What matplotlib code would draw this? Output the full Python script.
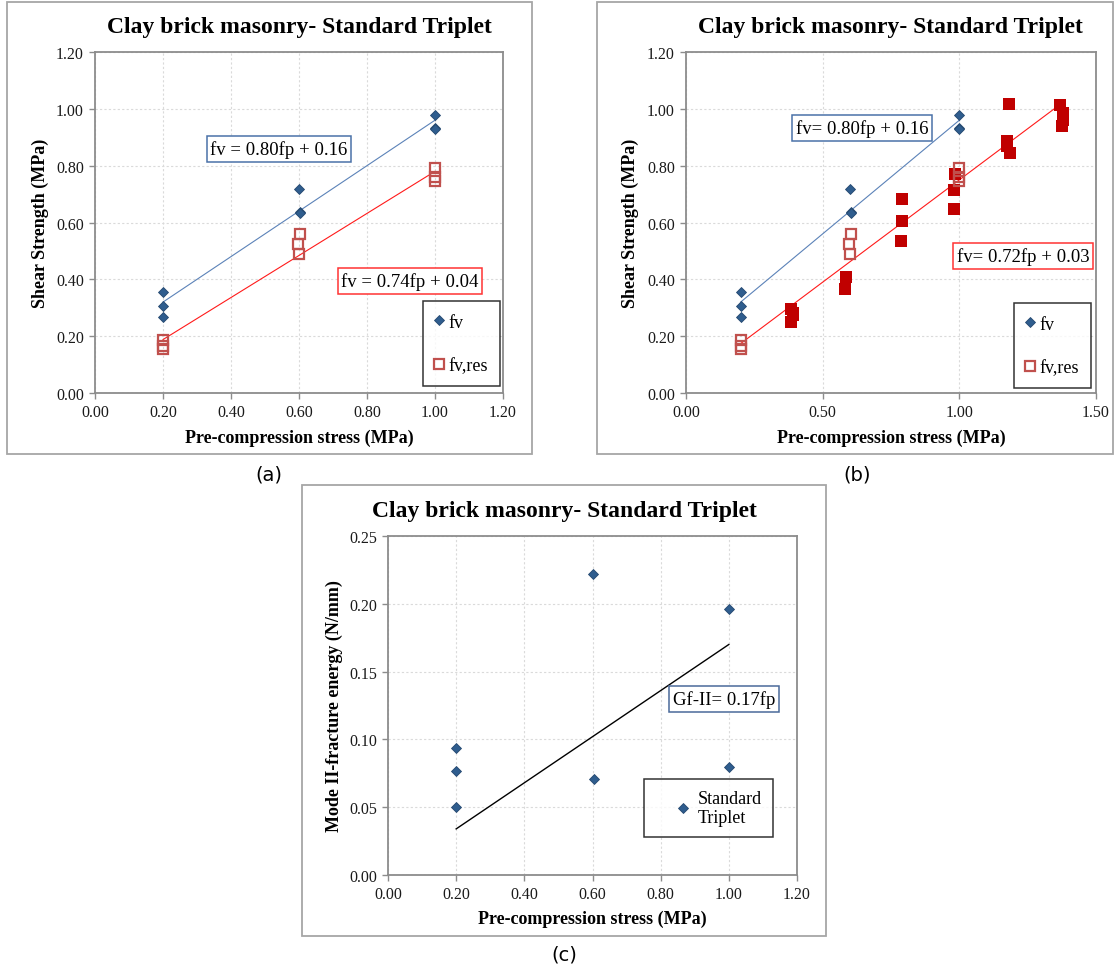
import numpy as np
import matplotlib
matplotlib.use("Agg")
import matplotlib.pyplot as plt
from matplotlib.patches import Rectangle
from matplotlib.ticker import FormatStrFormatter

plt.rcParams['font.family'] = ['Liberation Serif', 'DejaVu Serif']

W, H = 1115, 970

# shear strength, standard triplet (MPa)
fv_x = [0.2, 0.2, 0.2, 0.6, 0.603, 0.603, 1.0, 1.0, 1.0]
fv_y = [0.355, 0.305, 0.268, 0.718, 0.638, 0.635, 0.979, 0.932, 0.928]

# residual shear strength
res_x = [0.2, 0.2, 0.2, 0.603, 0.598, 0.6, 1.0, 1.0, 1.0]
res_y = [0.188, 0.167, 0.155, 0.561, 0.526, 0.488, 0.792, 0.759, 0.747]

# extra residual results used in panel (b)
ext_x = [0.385, 0.39, 0.39, 0.385, 0.585, 0.583, 0.79, 0.79, 0.787,
         0.985, 0.982, 0.98, 1.18, 1.175, 1.175, 1.185, 1.37, 1.38, 1.38, 1.375]
ext_y = [0.297, 0.283, 0.275, 0.25, 0.408, 0.366, 0.681, 0.606, 0.535,
         0.769, 0.716, 0.648, 1.016, 0.888, 0.868, 0.846, 1.012, 0.985, 0.96, 0.94]

# mode II fracture energy (N/mm)
gf_x = [0.2, 0.2, 0.2, 0.6, 0.603, 1.0, 1.0]
gf_y = [0.094, 0.077, 0.050, 0.222, 0.071, 0.196, 0.080]

# trendline coefficients
fit_fv = (0.80, 0.16)
fit_res_a = (0.74, 0.04)
fit_res_b = (0.72, 0.03)
fit_gf = 0.17

TITLE = 'Clay brick masonry- Standard Triplet'
XLAB = 'Pre-compression stress (MPa)'

BLUE = '#2F5D8E'
BLUE_LINE = '#5B82B8'
RED_OPEN = '#C0504D'
RED_FILL = '#C00000'
GRID = '#DADADA'
SPINE = '#8C8C8C'


def fx(px):
    return px / W


def fy(py):
    return 1 - py / H


def make_axes(fig, x0, x1, y0, y1):
    ax = fig.add_axes([fx(x0), fy(y1), (x1 - x0) / W, (y1 - y0) / H])
    for s in ax.spines.values():
        s.set_color(SPINE)
        s.set_linewidth(1.3)
    ax.grid(True, color=GRID, linestyle=(0, (2, 2)), linewidth=0.8)
    ax.set_axisbelow(True)
    ax.tick_params(direction='out', length=4, width=1, color=SPINE,
                   labelsize=11.5, pad=4, labelcolor='#1A1A1A')
    ax.yaxis.set_major_formatter(FormatStrFormatter('%.2f'))
    ax.xaxis.set_major_formatter(FormatStrFormatter('%.2f'))
    return ax


def frame(fig, x0, x1, y0, y1):
    fig.add_artist(Rectangle((fx(x0), fy(y1)), (x1 - x0) / W, (y1 - y0) / H,
                             transform=fig.transFigure, fill=False,
                             edgecolor='#A6A6A6', linewidth=1.3))


def eq_box(ax, fig, x, y, text, color):
    ax.text(fx(x), fy(y), text, transform=fig.transFigure, fontsize=13.5,
            ha='center', va='center',
            bbox=dict(boxstyle='square,pad=0.2', fc='white', ec=color, lw=1.1))


def trend(ax, xs, a, b, color, lw=0.8):
    xl = np.array([min(xs), max(xs)])
    ax.plot(xl, a * xl + b, color=color, lw=lw, zorder=2)


def shear_legend(ax, fig, x, y):
    leg = ax.legend(loc='upper left', bbox_to_anchor=(fx(x), fy(y)),
                    bbox_transform=fig.transFigure, borderaxespad=0,
                    fontsize=13, frameon=True, fancybox=False,
                    edgecolor='black', borderpad=0.7, labelspacing=1.45,
                    handlelength=0.4, handletextpad=0.3, numpoints=1)
    leg.get_frame().set_linewidth(1.1)


def shear_points(ax):
    ax.plot(fv_x, fv_y, 'D', color=BLUE, ms=5.5, mec='#24486F', mew=0.6,
            ls='none', label='fv', zorder=4)
    ax.plot(res_x, res_y, 's', mfc='none', mec=RED_OPEN, ms=7.0, mew=1.6,
            ls='none', label='fv,res', zorder=4)


def labels(ax, ylab, ycoord, xcoord):
    ax.set_ylabel(ylab, fontsize=13, fontweight='bold')
    ax.set_xlabel(XLAB, fontsize=13, fontweight='bold')
    ax.yaxis.set_label_coords(ycoord, 0.5)
    ax.xaxis.set_label_coords(0.5, xcoord)


fig = plt.figure(figsize=(W / 100, H / 100), dpi=100)

# (a)
frame(fig, 7, 532, 3, 455)
ax = make_axes(fig, 95, 503, 53, 394)
trend(ax, fv_x, *fit_fv, BLUE_LINE)
trend(ax, res_x, *fit_res_a, '#FF1A1A')
shear_points(ax)
ax.set_xlim(0, 1.2)
ax.set_ylim(0, 1.2)
ax.set_xticks(np.arange(0, 1.21, 0.2))
ax.set_yticks(np.arange(0, 1.21, 0.2))
labels(ax, 'Shear Strength (MPa)', -0.113, -0.106)
eq_box(ax, fig, 279, 150, 'fv = 0.80fp + 0.16', '#4A72A8')
eq_box(ax, fig, 410, 282, 'fv = 0.74fp + 0.04', '#FF3333')
shear_legend(ax, fig, 423, 302)
fig.text(fx(299), fy(28), TITLE, fontsize=17, fontweight='bold',
         ha='center', va='center')
fig.text(fx(269), fy(475), '(a)', fontsize=14, family='DejaVu Sans',
         ha='center', va='center')

# (b)
frame(fig, 597, 1113, 3, 455)
ax = make_axes(fig, 686, 1096, 53, 394)
trend(ax, fv_x, *fit_fv, BLUE_LINE)
trend(ax, res_x + ext_x, *fit_res_b, '#FF1A1A')
ax.plot(ext_x, ext_y, 's', color=RED_FILL, ms=8.0, mew=0, ls='none',
        label='_nolegend_', zorder=3)
shear_points(ax)
ax.set_xlim(0, 1.5)
ax.set_ylim(0, 1.2)
ax.set_xticks([0, 0.5, 1.0, 1.5])
ax.set_yticks(np.arange(0, 1.21, 0.2))
labels(ax, 'Shear Strength (MPa)', -0.115, -0.106)
eq_box(ax, fig, 862, 129, 'fv= 0.80fp + 0.16', '#4A72A8')
eq_box(ax, fig, 1023, 257, 'fv= 0.72fp + 0.03', '#FF3333')
shear_legend(ax, fig, 1014, 304)
fig.text(fx(890), fy(27), TITLE, fontsize=17, fontweight='bold',
         ha='center', va='center')
fig.text(fx(857), fy(475), '(b)', fontsize=14, family='DejaVu Sans',
         ha='center', va='center')

# (c)
frame(fig, 302, 826, 486, 937)
ax = make_axes(fig, 388, 797, 537, 876)
xl = np.array([min(gf_x), max(gf_x)])
ax.plot(xl, fit_gf * xl, color='black', lw=1.0, zorder=2)
ax.plot(gf_x, gf_y, 'D', color=BLUE, ms=5.5, mec='#24486F', mew=0.6,
        ls='none', label='Standard\nTriplet', zorder=4)
ax.set_xlim(0, 1.2)
ax.set_ylim(0, 0.25)
ax.set_xticks(np.arange(0, 1.21, 0.2))
ax.set_yticks(np.arange(0, 0.251, 0.05))
labels(ax, 'Mode II-fracture energy (N/mm)', -0.110, -0.103)
eq_box(ax, fig, 724, 700, 'Gf-II= 0.17fp', '#4A6A9A')
leg = ax.legend(loc='upper left', bbox_to_anchor=(fx(644), fy(780)),
                bbox_transform=fig.transFigure, borderaxespad=0,
                fontsize=13, frameon=True, fancybox=False, edgecolor='black',
                borderpad=0.6, handlelength=3.1, handletextpad=-0.7,
                numpoints=1)
leg.get_frame().set_linewidth(1.1)
fig.text(fx(564), fy(512), TITLE, fontsize=17, fontweight='bold',
         ha='center', va='center')
fig.text(fx(564), fy(955), '(c)', fontsize=14, family='DejaVu Sans',
         ha='center', va='center')

fig.savefig('out.png', dpi=100)
